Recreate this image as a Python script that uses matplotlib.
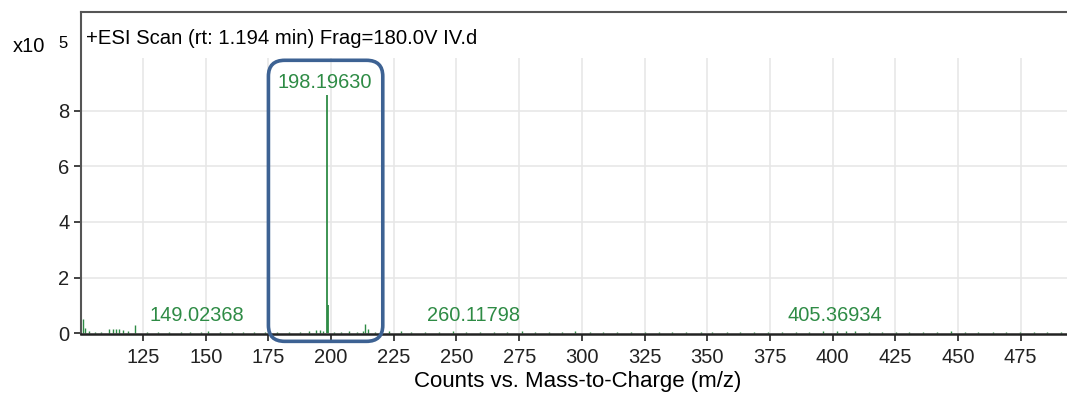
import matplotlib
matplotlib.use("Agg")
import matplotlib.pyplot as plt
from matplotlib.patches import FancyBboxPatch

plt.rcParams['font.family'] = ['Liberation Sans', 'DejaVu Sans']

# spectrum sticks, intensity in units of 1e5 counts
main_mz = [198.1963, 198.95]
main_int = [8.55, 1.0]

small_mz = [101.2, 101.8, 103.5, 106.0, 108.3, 111.6, 112.9, 114.4, 115.6, 117.1,
            119.0, 121.7, 126.5, 131.0, 135.2, 140.3, 143.8, 148.2, 151.0, 155.6,
            160.3, 165.0, 169.4, 173.8, 178.6, 183.1, 187.4, 191.0, 193.9, 195.6,
            196.8, 201.2, 204.0, 207.3, 210.2, 212.6, 213.6, 214.7, 217.4, 222.9,
            227.8, 232.0, 237.5, 243.1, 248.6, 253.9, 259.2, 265.0, 270.3, 276.1,
            281.4, 286.9, 292.0, 297.3, 303.1, 308.5, 314.0, 319.6, 325.2, 330.8,
            336.1, 341.7, 347.3, 352.0, 357.8, 363.1, 368.6, 374.2, 379.9, 385.3,
            390.6, 396.0, 401.7, 405.4, 409.0, 414.3, 419.8, 425.1, 430.6, 436.2,
            441.5, 447.0, 452.7, 458.1, 463.8, 469.2, 474.6, 480.1, 485.5, 491.0]
small_int = [0.52, 0.2, 0.08, 0.06, 0.05, 0.15, 0.17, 0.14, 0.16, 0.1,
             0.08, 0.3, 0.05, 0.04, 0.05, 0.04, 0.05, 0.06, 0.09, 0.05,
             0.04, 0.05, 0.04, 0.06, 0.05, 0.05, 0.06, 0.07, 0.1, 0.12,
             0.09, 0.06, 0.05, 0.07, 0.06, 0.09, 0.35, 0.16, 0.06, 0.09,
             0.07, 0.05, 0.06, 0.05, 0.07, 0.06, 0.05, 0.06, 0.05, 0.07,
             0.06, 0.05, 0.06, 0.07, 0.06, 0.05, 0.05, 0.06, 0.05, 0.05,
             0.04, 0.05, 0.05, 0.04, 0.05, 0.06, 0.05, 0.05, 0.04, 0.05,
             0.06, 0.07, 0.08, 0.07, 0.09, 0.06, 0.05, 0.06, 0.05, 0.04,
             0.06, 0.07, 0.05, 0.06, 0.05, 0.04, 0.05, 0.04, 0.05, 0.04]

# annotated masses and where their labels sit
label_text = ["198.19630", "149.02368", "260.11798", "405.36934"]
label_x = [197.6, 146.5, 256.7, 400.9]
label_y = [8.68, 0.28, 0.28, 0.28]

xticks = [125, 150, 175, 200, 225, 250, 275, 300, 325, 350, 375, 400, 425, 450, 475]
yticks = [0, 2, 4, 6, 8]

green = "#2e8b45"

fig = plt.figure(figsize=(10.67, 3.96), dpi=100)
ax = fig.add_axes([0.076, 0.157, 0.93, 0.813])

ax.set_xlim(100.3, 496)
ax.set_ylim(-0.02, 11.55)

# grid: vertical lines stop below the header strip
ax.vlines(xticks, 0, 9.9, color="#e6e6e6", lw=1.1, zorder=0)
ax.hlines(yticks[1:], 100.3, 496, color="#e6e6e6", lw=1.1, zorder=0)

ax.vlines(small_mz, 0, small_int, color=green, lw=1.0)
ax.vlines(main_mz, 0, main_int, color=green, lw=1.3)

for t, x, y in zip(label_text, label_x, label_y):
    ax.text(x, y, t, color=green, fontsize=14.4, ha="center", va="bottom")

# highlight box around the main peak
box = FancyBboxPatch((175.0, -0.29), 45.6, 10.1,
                     boxstyle="round,pad=0,rounding_size=6.5",
                     mutation_aspect=0.088, fill=False,
                     ec="#3d6293", lw=2.6, clip_on=False, zorder=5)
ax.add_patch(box)

ax.set_xticks(xticks)
ax.set_yticks(yticks)
ax.tick_params(axis="both", labelsize=14.5, colors="#222222", length=5, width=1.2)
ax.tick_params(axis="x", pad=5)

for side in ["left", "bottom", "top"]:
    ax.spines[side].set_color("#555555")
    ax.spines[side].set_linewidth(1.5)
ax.spines["right"].set_visible(False)
ax.spines["bottom"].set_color("#222222")
ax.spines["bottom"].set_linewidth(1.8)

ax.text(0.005, 0.917, "+ESI Scan (rt: 1.194 min) Frag=180.0V IV.d",
        transform=ax.transAxes, fontsize=14.6, ha="left", va="center")

fig.text(0.012, 0.883, "x10", fontsize=14.5, ha="left", va="center")
fig.text(0.055, 0.89, "5", fontsize=12, ha="left", va="center")

ax.set_xlabel("Counts vs. Mass-to-Charge (m/z)", fontsize=16, labelpad=3)

fig.savefig("out.png", dpi=100)
